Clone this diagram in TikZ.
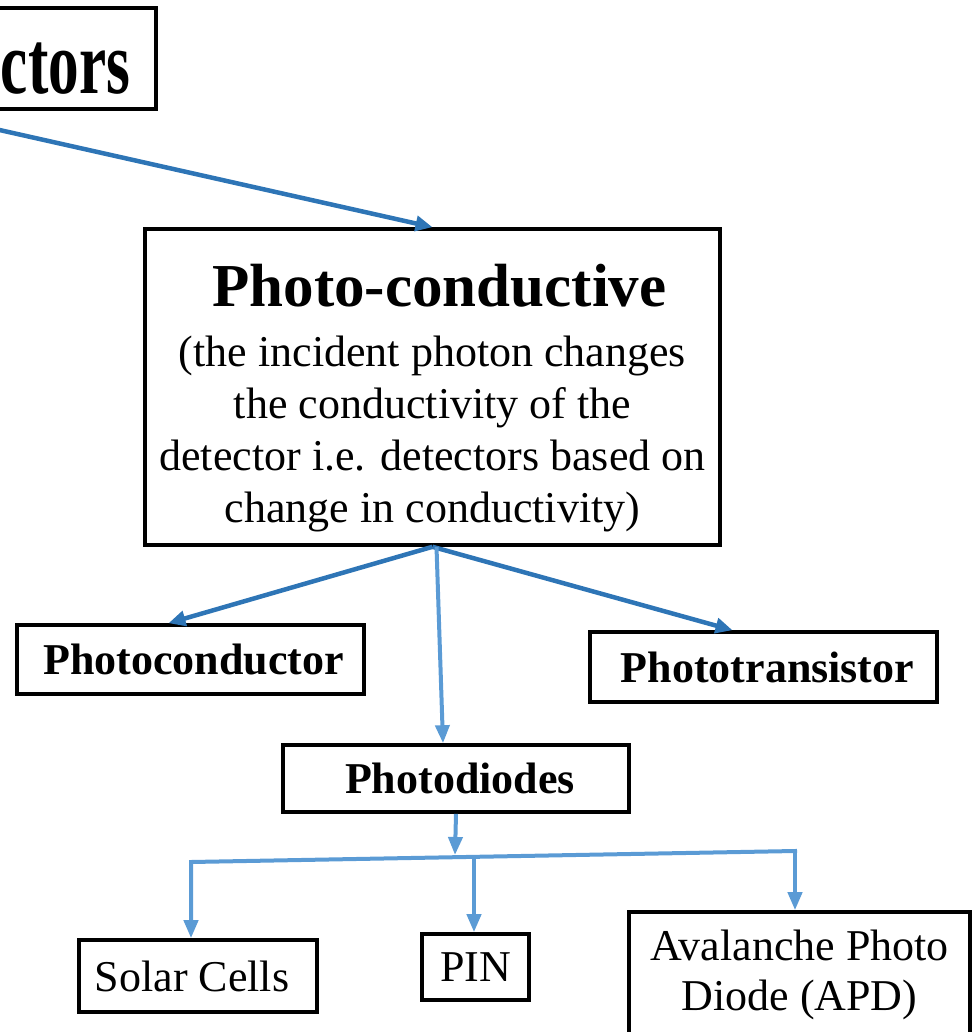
\documentclass[tikz,border=0pt]{standalone}
\usepackage{fontspec}
\setmainfont{Liberation Serif}
\usetikzlibrary{arrows.meta,positioning}
\definecolor{darkarr}{RGB}{46,117,182}
\definecolor{lightarr}{RGB}{91,155,213}

\begin{document}
\begin{tikzpicture}[x=1pt,y=-1pt,
  box/.style={draw,line width=3.6pt,inner sep=0pt,align=center},
  lab/.style={box,font=\fontsize{44}{50}\selectfont\bfseries},
  leaf/.style={box,font=\fontsize{44}{50}\selectfont},
  dk/.style={darkarr,line width=4.5pt,-{Triangle[length=17pt,width=15pt]}},
  lt/.style={lightarr,line width=4pt,-{Triangle[length=18pt,width=14pt]}}]
  \useasboundingbox (0,0) rectangle (972,1032);
  \clip (0,0) rectangle (972,1032);
  % title box, cut off on the left
  \node[box,minimum height=101pt,text width=432pt,inner xsep=26pt,align=right] (det) at (-86,58.5)
    {\scalebox{0.68}[1]{\fontsize{90}{92}\selectfont\bfseries\rule{0pt}{70pt}ctors}};
  % main box
  \node[box,minimum width=575pt,minimum height=316pt,font=\fontsize{44}{52}\selectfont] (pc) at (432.5,387)
    {{\fontsize{61}{61}\selectfont\bfseries\rule{0pt}{64pt}\hspace*{14pt}Photo-conductive}\\[8pt]
     (the incident photon changes\\ the conductivity of the\\
     detector i.e. detectors based on\\ change in conductivity)};
  % second row
  \node[lab,minimum width=347pt,minimum height=69pt] (pcd) at (190.5,659.5) {\hspace*{6pt}Photoconductor};
  \node[lab,minimum width=347pt,minimum height=70pt] (ptr) at (763.5,667) {\hspace*{8pt}Phototransistor};
  \node[lab,minimum width=346pt,minimum height=67pt] (pdd) at (456,778.5) {\hspace*{8pt}Photodiodes};
  % photodiode kinds
  \node[leaf,minimum width=238pt,minimum height=72pt] (sc) at (198,976) {Solar Cells\hspace*{12pt}};
  \node[leaf,minimum width=107pt,minimum height=66pt] (pin) at (475.5,967) {PIN};
  \node[leaf,minimum width=341pt,minimum height=126pt] (apd) at (799.5,975) {Avalanche Photo\\Diode (APD)};
  \coordinate (busL) at (191,862);
  \coordinate (busR) at (795,851);
  \coordinate (busM) at (474,857);
  \coordinate (busT) at (455,855);
  % connectors
  \draw[dk] (det.south) -- (pc.north);
  \draw[dk] (pc.south) -- ([xshift=-22pt]pcd.north);
  \draw[dk] (pc.south) -- ([xshift=-31pt]ptr.north);
  \draw[lt] ([xshift=4pt]pc.south) -- ([xshift=-13pt]pdd.north);
  \draw[lt] (pdd.south) -- (busT);
  \draw[lt,line cap=rect] (busR) -- (busL) -- (busL |- sc.north);
  \draw[lt] (busM) -- (busM |- pin.north);
  \draw[lt] (busR) -- (busR |- apd.north);
\end{tikzpicture}
\end{document}
